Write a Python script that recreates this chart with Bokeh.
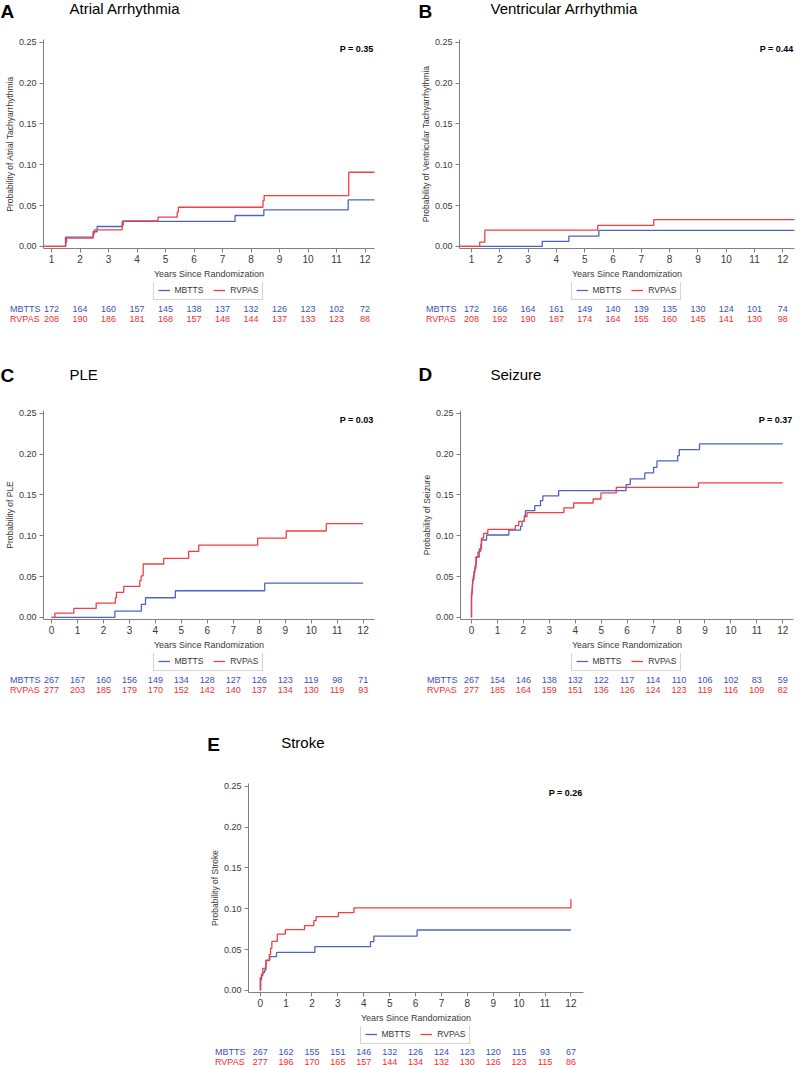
import math
from bokeh.plotting import figure
from bokeh.models import (Legend, LegendItem, FixedTicker, PrintfTickFormatter, Spacer, Range1d)
from bokeh.layouts import column, row
from bokeh.embed import file_html
from bokeh.resources import INLINE
from bokeh.core.properties import value

FONT = "Liberation Sans"
BLUE_LINE = "#4f63c4"
RED_LINE = "#f43f3f"
BLUE_TXT = "#3c50bd"
RED_TXT = "#ec2f2f"
AXIS_COL = "#808080"
TICK_TXT = "#3a3a3a"

# ---------------- data ----------------
# Panel A: Atrial arrhythmia
A_mb_t = [0, 1.49, 2.46, 2.60, 3.48, 7.44, 8.45, 11.41, 12.4]
A_mb_p = [0, 0.0114, 0.018, 0.0244, 0.0306, 0.0379, 0.0448, 0.057, 0.057]
A_rv_t = [0, 1.50, 1.53, 2.46, 2.50, 3.48, 3.52, 4.74, 5.41, 5.45, 8.42, 8.46, 11.43, 12.4]
A_rv_p = [0, 0.005, 0.0102, 0.015, 0.0204, 0.026, 0.0314, 0.0358, 0.042, 0.048, 0.056, 0.0623, 0.0908, 0.0908]
A_risk_x = [1, 2, 3, 4, 5, 6, 7, 8, 9, 10, 11, 12]
A_risk_mb = [172, 164, 160, 157, 145, 138, 137, 132, 126, 123, 102, 72]
A_risk_rv = [208, 190, 186, 181, 168, 157, 148, 144, 137, 133, 123, 88]

# Panel B: Ventricular arrhythmia
B_mb_t = [0, 3.50, 4.44, 5.50, 12.45]
B_mb_p = [0, 0.0061, 0.0127, 0.0197, 0.0197]
B_rv_t = [0, 1.29, 1.47, 5.46, 7.44, 12.45]
B_rv_p = [0, 0.0053, 0.020, 0.0258, 0.0328, 0.0328]
B_risk_x = [1, 2, 3, 4, 5, 6, 7, 8, 9, 10, 11, 12]
B_risk_mb = [172, 166, 164, 161, 149, 140, 139, 135, 130, 124, 101, 74]
B_risk_rv = [208, 192, 190, 187, 174, 164, 155, 160, 145, 141, 130, 98]

# Panel C: PLE
C_mb_t = [0, 2.44, 3.46, 3.62, 4.77, 8.21, 12.0]
C_mb_p = [0, 0.0078, 0.0159, 0.0241, 0.0327, 0.042, 0.042]
C_rv_t = [0, 0.13, 0.86, 1.72, 2.46, 2.50, 2.78, 3.40, 3.45, 3.53, 4.32, 5.28, 5.67, 7.94, 9.04, 10.58, 12.0]
C_rv_p = [0, 0.0053, 0.011, 0.0176, 0.024, 0.0306, 0.038, 0.045, 0.051, 0.0654, 0.0723, 0.0809, 0.0886, 0.0972, 0.1058, 0.1148, 0.1148]
C_risk_x = [0, 1, 2, 3, 4, 5, 6, 7, 8, 9, 10, 11, 12]
C_risk_mb = [267, 167, 160, 156, 149, 134, 128, 127, 126, 123, 119, 98, 71]
C_risk_rv = [277, 203, 185, 179, 170, 152, 142, 140, 137, 134, 130, 119, 93]

# Panel D: Seizure
D_mb_t = [0, 0.0, 0.02, 0.04, 0.07, 0.10, 0.13, 0.17, 0.19, 0.25, 0.30, 0.385, 0.58,
          1.44, 1.89, 1.95, 2.04, 2.08, 2.44, 2.66, 2.75, 3.36,
          5.96, 6.12, 6.68, 7.02, 7.15, 7.95, 8.01, 8.79, 12.0]
D_mb_p = [0, 0.027, 0.035, 0.045, 0.051, 0.057, 0.060, 0.066, 0.074, 0.080, 0.084, 0.0948, 0.1009,
          0.107, 0.1115, 0.1176, 0.1246, 0.1307, 0.1368, 0.143, 0.1487, 0.1552,
          0.1626, 0.1695, 0.1769, 0.1838, 0.1916, 0.198, 0.2055, 0.2124, 0.2124]
D_rv_t = [0, 0.0, 0.03, 0.05, 0.10, 0.13, 0.17, 0.30, 0.36, 0.385, 0.47, 0.63,
          1.69, 1.82, 2.04, 2.14, 3.56, 3.94, 4.69, 4.99, 5.58, 8.75, 12.0]
D_rv_p = [0, 0.030, 0.040, 0.047, 0.055, 0.063, 0.074, 0.0809, 0.090, 0.0972, 0.103, 0.1078,
          0.1123, 0.1176, 0.1234, 0.1283, 0.134, 0.1401, 0.145, 0.1524, 0.1593, 0.1646, 0.1646]
D_risk_x = [0, 1, 2, 3, 4, 5, 6, 7, 8, 9, 10, 11, 12]
D_risk_mb = [267, 154, 146, 138, 132, 122, 117, 114, 110, 106, 102, 83, 59]
D_risk_rv = [277, 185, 164, 159, 151, 136, 126, 124, 123, 119, 116, 109, 82]

# Panel E: Stroke
E_mb_t = [0.02, 0.02, 0.05, 0.10, 0.17, 0.22, 0.37, 0.63, 2.11, 4.26, 4.39, 6.06, 12.0]
E_mb_p = [0, 0.013, 0.018, 0.022, 0.025, 0.037, 0.0413, 0.0466, 0.0536, 0.0597, 0.0666, 0.074, 0.074]
E_rv_t = [0, 0.0, 0.05, 0.10, 0.22, 0.35, 0.40, 0.45, 0.66, 0.97, 1.71, 2.07, 2.16, 3.02, 3.62, 12.0, 12.0]
E_rv_p = [0, 0.016, 0.020, 0.027, 0.0364, 0.044, 0.0515, 0.060, 0.069, 0.0744, 0.0793, 0.0854, 0.0904, 0.0953, 0.101, 0.101, 0.112]
E_risk_x = [0, 1, 2, 3, 4, 5, 6, 7, 8, 9, 10, 11, 12]
E_risk_mb = [267, 162, 155, 151, 146, 132, 126, 124, 123, 120, 115, 93, 67]
E_risk_rv = [277, 196, 170, 165, 157, 144, 134, 132, 130, 126, 123, 115, 86]

Y_TICKS = [0.0, 0.05, 0.10, 0.15, 0.20, 0.25]
Y_RANGE = (-0.0025, 0.2533)
X_TICKS = list(range(0, 13))
TOPB = 6      # border above the plot frame
BOTB = 34     # border below the plot frame (ticks + axis title)
HEAD_SHIFT = 7.5  # compensates the rendered baseline offset of heading texts


def no_align(f):
    try:
        f.frame_align = False
    except AttributeError:
        pass
    return f


def blank_fig(w, h, xr, yr):
    f = figure(width=w, height=h, x_range=Range1d(*xr), y_range=Range1d(*yr), min_border=0,
               x_axis_location=None, y_axis_location=None, toolbar_location=None,
               output_backend="svg", outline_line_color=None, title=None,
               background_fill_color="white", border_fill_color="white")
    f.grid.visible = False
    return no_align(f)


def make_panel(cfg):
    W, H = cfg["W"], cfg["H"]
    L, R, T, B = cfg["frame"]
    x0, x1 = cfg["xr"]
    y0, y1 = Y_RANGE
    k = (x1 - x0) / (R - L)

    # ---- heading: letter + title
    th = T - TOPB
    tf = blank_fig(W, th, (0, W), (th, 0))
    tf.text(x=[cfg["letter_x"]], y=[cfg["letter_base"] - HEAD_SHIFT], text=[cfg["letter"]],
            text_font=value(FONT), text_font_size="19px", text_font_style="bold",
            text_color="black", text_baseline="alphabetic", text_align="left")
    tf.text(x=[cfg["title_x"]], y=[cfg["title_base"] - HEAD_SHIFT], text=[cfg["title"]],
            text_font=value(FONT), text_font_size="15px", text_color="black",
            text_baseline="alphabetic", text_align="left")

    # ---- main plot
    p = figure(frame_width=R - L, frame_height=B - T,
               x_range=Range1d(x0, x1), y_range=Range1d(y0, y1),
               min_border_left=L, min_border_right=W - R, min_border_top=TOPB,
               min_border_bottom=BOTB, output_backend="svg", toolbar_location=None,
               background_fill_color="white", border_fill_color="white",
               outline_line_color=None, title=None)
    no_align(p)
    p.grid.visible = False
    for ax in (p.xaxis[0], p.yaxis[0]):
        ax.axis_line_color = AXIS_COL
        ax.major_tick_line_color = AXIS_COL
        ax.minor_tick_line_color = None
        ax.major_tick_in = 0
        ax.major_tick_out = 4
        ax.major_label_text_font = FONT
        ax.major_label_text_color = TICK_TXT
        ax.axis_label_text_font = FONT
        ax.axis_label_text_font_style = "normal"
        ax.axis_label_text_color = TICK_TXT
    p.xaxis.ticker = FixedTicker(ticks=X_TICKS)
    p.xaxis.major_label_text_font_size = "10px"
    p.xaxis.major_label_standoff = 2
    p.xaxis.axis_label = "Years Since Randomization"
    p.xaxis.axis_label_text_font_size = "9px"
    p.xaxis.axis_label_standoff = 3
    p.yaxis.ticker = FixedTicker(ticks=Y_TICKS)
    p.yaxis.formatter = PrintfTickFormatter(format="%.2f")
    p.yaxis.major_label_text_font_size = "9px"
    p.yaxis.major_label_standoff = 3
    p.yaxis.axis_label = cfg["ylabel"]
    p.yaxis.axis_label_text_font_size = "8.5px"
    p.yaxis.axis_label_standoff = 1

    p.step(cfg["mb"][0], cfg["mb"][1], mode="after", line_color=BLUE_LINE, line_width=1.3)
    p.step(cfg["rv"][0], cfg["rv"][1], mode="after", line_color=RED_LINE, line_width=1.3)
    p.text(x=[x1], y=[y1 - 9 * (y1 - y0) / (B - T)], text=[cfg["pval"]], x_offset=-1,
           text_font=value(FONT), text_font_size="9px", text_font_style="bold",
           text_color="black", text_baseline="middle", text_align="right")

    # ---- legend + numbers at risk (same x scale as the plot)
    bh = H - (B + BOTB)
    bf = blank_fig(W, bh, (x0 - L * k, x0 + (W - L) * k), (bh, 0))
    gb = bf.line(x=[x0, x1], y=[-50, -50], line_color=BLUE_LINE, line_width=1.3)
    gr = bf.line(x=[x0, x1], y=[-50, -50], line_color=RED_LINE, line_width=1.3)
    leg_bottom = 52 - BOTB   # legend box bottom, px below the top of this strip
    leg = Legend(items=[LegendItem(label="MBTTS", renderers=[gb]),
                        LegendItem(label="RVPAS", renderers=[gr])],
                 orientation="horizontal", location=((L + R) / 2 - 56, bh - leg_bottom),
                 label_text_font=FONT, label_text_font_size="8.5px",
                 label_text_color="#333333", glyph_width=12, glyph_height=10,
                 label_height=10, label_standoff=5, spacing=10, padding=4,
                 margin=0, border_line_color="#aaaaaa", border_line_width=1,
                 background_fill_color="white", background_fill_alpha=1.0)
    bf.add_layout(leg)
    rx, rmb, rrv = cfg["risk"]
    o1, o2 = cfg.get("risk_off", (60, 70))
    lab_x = x0 - 33.5 * k
    for name, vals, col, yy in (("MBTTS", rmb, BLUE_TXT, o1 - BOTB), ("RVPAS", rrv, RED_TXT, o2 - BOTB)):
        bf.text(x=[lab_x], y=[yy], text=[name], text_font=value(FONT), text_font_size="9px",
                text_color=col, text_baseline="middle", text_align="left")
        bf.text(x=rx, y=[yy] * len(rx), text=[str(v) for v in vals], text_font=value(FONT),
                text_font_size="9px", text_color=col, text_baseline="middle", text_align="center")
    return column(tf, p, bf)


pA = make_panel(dict(W=400, H=330, frame=(43, 374, 39, 248), xr=(0.719, 12.333),
                     letter="A", letter_x=0, letter_base=18, title="Atrial Arrhythmia",
                     title_x=69, title_base=15.5,
                     ylabel="Probability of Atrial Tachyarrhythmia", pval="P = 0.35",
                     mb=(A_mb_t, A_mb_p), rv=(A_rv_t, A_rv_p),
                     risk=(A_risk_x, A_risk_mb, A_risk_rv)))
pB = make_panel(dict(W=399, H=330, frame=(59, 394, 39, 248), xr=(0.576, 12.413),
                     letter="B", letter_x=18, letter_base=18.5, title="Ventricular Arrhythmia",
                     title_x=90, title_base=15.5,
                     ylabel="Probability of Ventricular Tachyarrhythmia", pval="P = 0.44",
                     mb=(B_mb_t, B_mb_p), rv=(B_rv_t, B_rv_p),
                     risk=(B_risk_x, B_risk_mb, B_risk_rv)))
pC = make_panel(dict(W=400, H=370, frame=(43, 374, 80, 289), xr=(-0.308, 12.437),
                     letter="C", letter_x=0, letter_base=52, title="PLE",
                     title_x=69, title_base=51,
                     ylabel="Probability of PLE", pval="P = 0.03",
                     mb=(C_mb_t, C_mb_p), rv=(C_rv_t, C_rv_p),
                     risk=(C_risk_x, C_risk_mb, C_risk_rv)))
pD = make_panel(dict(W=399, H=370, frame=(60, 393, 80, 289), xr=(-0.424, 12.413),
                     letter="D", letter_x=18, letter_base=51.7, title="Seizure",
                     title_x=90, title_base=51,
                     ylabel="Probability of Seizure", pval="P = 0.37",
                     mb=(D_mb_t, D_mb_p), rv=(D_rv_t, D_rv_p),
                     risk=(D_risk_x, D_risk_mb, D_risk_rv)))
pE = make_panel(dict(W=410, H=365, frame=(58, 393, 83, 292), xr=(-0.452, 12.487),
                     letter="E", letter_x=16.7, letter_base=51.7, title="Stroke",
                     title_x=90.7, title_base=49,
                     ylabel="Probability of Stroke", pval="P = 0.26",
                     mb=(E_mb_t, E_mb_p), rv=(E_rv_t, E_rv_p),
                     risk=(E_risk_x, E_risk_mb, E_risk_rv), risk_off=(59, 69)))

layout = column(row(pA, pB), row(pC, pD), row(Spacer(width=190, height=365), pE))

open("out.html", "w").write(file_html(layout, INLINE))
